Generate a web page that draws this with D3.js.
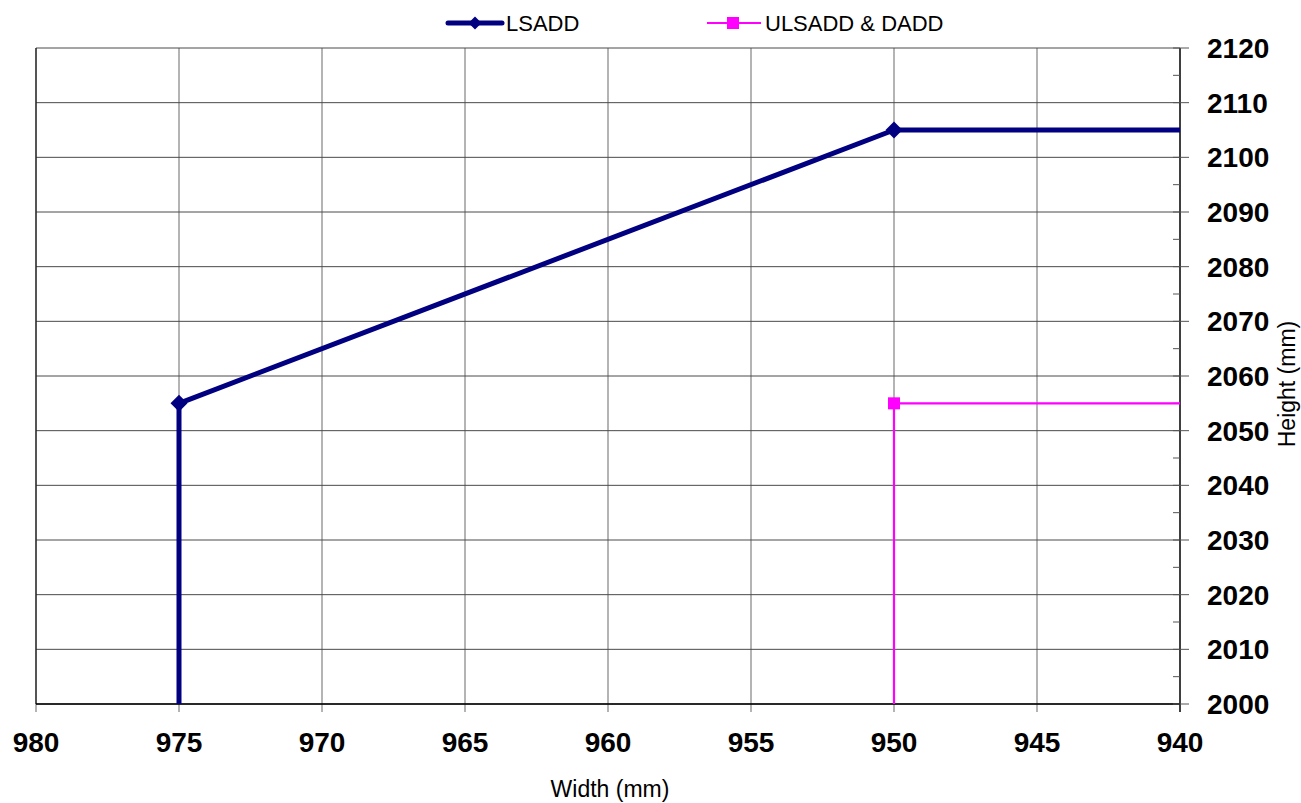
<!DOCTYPE html>
<html>
<head>
<meta charset="utf-8">
<script src="https://cdn.jsdelivr.net/npm/d3@7"></script>
<style>
  html, body { margin: 0; padding: 0; background: #fff; }
  svg { display: block; font-family: "Liberation Sans", Arial, sans-serif; }
</style>
</head>
<body>
<svg id="chart" width="1301" height="803"></svg>
<script>
// ---- data ----
const lsaddWidth  = [975, 975, 950, 940];
const lsaddHeight = [2000, 2055, 2105, 2105];
const lsaddMarkers = [1, 2];           // indices of points drawn with a marker
const ulsWidth  = [950, 950, 940];
const ulsHeight = [2000, 2055, 2055];
const ulsMarkers = [1];
const xTicks = [980, 975, 970, 965, 960, 955, 950, 945, 940];
const yTicks = [2000, 2010, 2020, 2030, 2040, 2050, 2060, 2070, 2080, 2090, 2100, 2110, 2120];
const yMinorTicks = [2005, 2015, 2025, 2035, 2045, 2055, 2065, 2075, 2085, 2095, 2105, 2115];
const seriesNames = ["LSADD", "ULSADD & DADD"];

const svg = d3.select("#chart");
const L = 36, R = 1180, T = 48, B = 704;
const x = d3.scaleLinear().domain([980, 940]).range([L, R]);
const y = d3.scaleLinear().domain([2000, 2120]).range([B, T]);

// vertical gridlines
svg.append("g").selectAll("line").data(xTicks).join("line")
  .attr("x1", d => x(d)).attr("x2", d => x(d))
  .attr("y1", T).attr("y2", B + 8)
  .attr("stroke", "#8c8c8c").attr("stroke-width", 1.3);

// horizontal gridlines
svg.append("g").selectAll("line").data(yTicks).join("line")
  .attr("x1", L).attr("x2", R)
  .attr("y1", d => y(d)).attr("y2", d => y(d))
  .attr("stroke", "#4a4a4a").attr("stroke-width", 1);

// axes lines
svg.append("line").attr("x1", L).attr("x2", L).attr("y1", T).attr("y2", B)
  .attr("stroke", "#222").attr("stroke-width", 1.3);
svg.append("line").attr("x1", L).attr("x2", R).attr("y1", B).attr("y2", B)
  .attr("stroke", "#000").attr("stroke-width", 1.6);
svg.append("line").attr("x1", R).attr("x2", R).attr("y1", T).attr("y2", B + 8)
  .attr("stroke", "#000").attr("stroke-width", 1.3);

// y major ticks (cross) & minor (inside)
svg.append("g").selectAll("line").data(yTicks).join("line")
  .attr("x1", R - 7).attr("x2", R + 9)
  .attr("y1", d => y(d)).attr("y2", d => y(d))
  .attr("stroke", "#555").attr("stroke-width", 1);
svg.append("g").selectAll("line").data(yMinorTicks).join("line")
  .attr("x1", R - 7).attr("x2", R)
  .attr("y1", d => y(d)).attr("y2", d => y(d))
  .attr("stroke", "#555").attr("stroke-width", 1);

// tick labels
svg.append("g").selectAll("text").data(xTicks).join("text")
  .attr("x", d => x(d)).attr("y", 752)
  .attr("text-anchor", "middle")
  .attr("font-size", 28).attr("font-weight", "bold")
  .text(d => d);
svg.append("g").selectAll("text").data(yTicks).join("text")
  .attr("x", R + 27).attr("y", d => y(d) + 10)
  .attr("text-anchor", "start")
  .attr("font-size", 28).attr("font-weight", "bold")
  .text(d => d);

// axis titles
svg.append("text").attr("x", 610).attr("y", 797)
  .attr("text-anchor", "middle").attr("font-size", 23).text("Width (mm)");
svg.append("text")
  .attr("transform", "translate(1295,384) rotate(-90)")
  .attr("text-anchor", "middle").attr("font-size", 23).text("Height (mm)");

// clip
svg.append("clipPath").attr("id", "plotclip").append("rect")
  .attr("x", L).attr("y", T - 10).attr("width", R - L + 2).attr("height", B - T + 10);

const line = d3.line().x(d => x(d[0])).y(d => y(d[1]));
const lsadd = lsaddWidth.map((w, i) => [w, lsaddHeight[i]]);
const uls = ulsWidth.map((w, i) => [w, ulsHeight[i]]);

const plot = svg.append("g").attr("clip-path", "url(#plotclip)");
plot.append("path").datum(uls).attr("d", line)
  .attr("fill", "none").attr("stroke", "#ff00ff").attr("stroke-width", 2.2);
plot.append("path").datum(lsadd).attr("d", line)
  .attr("fill", "none").attr("stroke", "#000080").attr("stroke-width", 5)
  .attr("stroke-linejoin", "round");

const diamondPath = r => `M0,${-r}L${r},0L0,${r}L${-r},0Z`;
plot.selectAll(".dm").data(lsaddMarkers.map(i => lsadd[i])).join("path")
  .attr("transform", d => `translate(${x(d[0])},${y(d[1])})`)
  .attr("d", diamondPath(8.5))
  .attr("fill", "#000080");
plot.selectAll(".sq").data(ulsMarkers.map(i => uls[i])).join("rect")
  .attr("x", d => x(d[0]) - 6).attr("y", d => y(d[1]) - 6)
  .attr("width", 12).attr("height", 12)
  .attr("fill", "#ff00ff");

// legend
const lg = svg.append("g");
lg.append("line").attr("x1", 448).attr("x2", 502).attr("y1", 23).attr("y2", 23)
  .attr("stroke", "#000080").attr("stroke-width", 5).attr("stroke-linecap", "round");
lg.append("path").attr("transform", "translate(475,23)")
  .attr("d", diamondPath(6.5)).attr("fill", "#000080");
lg.append("text").attr("x", 506).attr("y", 31).attr("font-size", 22).text(seriesNames[0]);
lg.append("line").attr("x1", 707).attr("x2", 761).attr("y1", 23).attr("y2", 23)
  .attr("stroke", "#ff00ff").attr("stroke-width", 2.2);
lg.append("rect").attr("x", 727).attr("y", 17).attr("width", 12).attr("height", 12)
  .attr("fill", "#ff00ff");
lg.append("text").attr("x", 765).attr("y", 31).attr("font-size", 22).text(seriesNames[1]);
</script>
</body>
</html>
